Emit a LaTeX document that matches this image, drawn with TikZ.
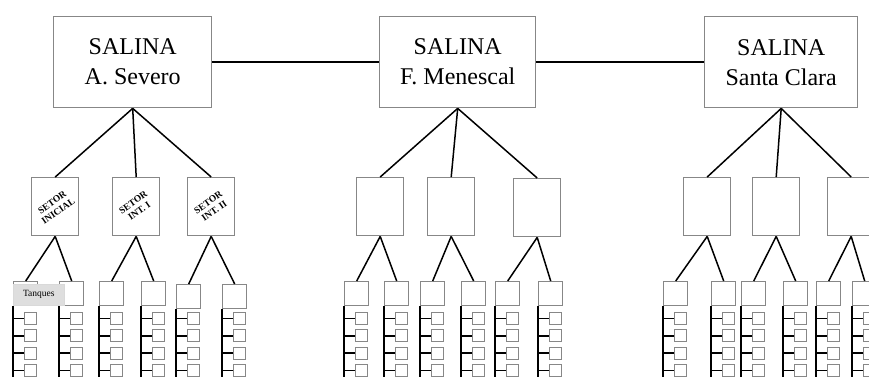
\documentclass[tikz,border=0pt]{standalone}
\usepackage{fontspec}
\setmainfont{Liberation Serif}
\definecolor{boxgray}{RGB}{135,135,135}
\definecolor{labgray}{RGB}{222,222,222}
\begin{document}
\begin{tikzpicture}[x=1pt,y=-1pt,
  box/.style={draw=boxgray, line width=1.4pt, fill=white, inner sep=0pt, anchor=north west},
  topbox/.style={box, minimum height=91pt, align=center, font=\fontsize{24}{30}\selectfont},
  sectbox/.style={box, minimum width=47pt, minimum height=58pt},
  childbox/.style={box, minimum width=24pt, minimum height=24pt},
  tankbox/.style={box, anchor=west, minimum width=12pt, minimum height=12pt, line width=1.2pt},
  conn/.style={draw=black, line width=1.5pt},
  rail/.style={draw=black, line width=1.8pt},
  sectlab/.style={rotate=35, align=center, font=\fontsize{9.5}{10.5}\selectfont\bfseries, inner sep=0pt}]
\useasboundingbox (0,0) rectangle (869,376);
\clip (0,0) rectangle (869,376);

% top level
\node[topbox, minimum width=158pt] (S1) at (53,16) {SALINA\\A. Severo};
\node[topbox, minimum width=156pt] (S2) at (379,16) {SALINA\\F. Menescal};
\node[topbox, minimum width=153pt] (S3) at (704,16) {SALINA\\Santa Clara};
\draw[conn] (S1.east) -- (S2.west);
\draw[conn] (S2.east) -- (S3.west);

% sectors
\foreach \s/\x/\y/\p in {s1/31/177/S1, s2/112/177/S1, s3/187/177/S1,
                         s4/356/177/S2, s5/427/177/S2, s6/513/178/S2,
                         s7/683/177/S3, s8/752/177/S3, s9/827/177/S3} {
  \node[sectbox] (\s) at (\x,\y) {};
  \draw[conn] (\p.south) -- (\s.north);
}
\node[sectlab] (l1) at (s1.center) {SETOR\\INICIAL};
\node[sectlab] (l2) at (s2.center) {SETOR\\INT. I};
\node[sectlab] (l3) at (s3.center) {SETOR\\INT. II};

% child boxes with tanks
\foreach \c/\L/\T/\p in {a1/13/281/s1, a2/59/281/s1, b1/99/281/s2, b2/141/281/s2,
                         c1/176/284/s3, c2/222/284/s3, d1/344/281/s4, d2/384/281/s4,
                         e1/420/281/s5, e2/461/281/s5, f1/495/281/s6, f2/538/281/s6,
                         g1/663/281/s7, g2/711/281/s7, h1/741/281/s8, h2/783/281/s8,
                         i1/816/281/s9, i2/852/281/s9} {
  \node[childbox] (\c) at (\L,\T) {};
  \draw[conn] (\p.south) -- (\c.north);
  \coordinate (\c-end) at (\L,380);
  \draw[rail] (\c.south west) -- (\c-end);
  \foreach \k in {0,1,2,3} {
    \node[tankbox] (\c-t\k) at (\L+11, 318.5+17.3*\k) {};
    \draw[rail] (\c.south west |- \c-t\k.west) -- (\c-t\k.west);
  }
}

% Tanques label
\node[anchor=north west, fill=labgray, draw=gray!30, line width=0.6pt,
      minimum width=51pt, minimum height=21pt, inner sep=0pt,
      font=\fontsize{9.5}{11}\selectfont] (tq) at (13,284) {Tanques};
\end{tikzpicture}
\end{document}
